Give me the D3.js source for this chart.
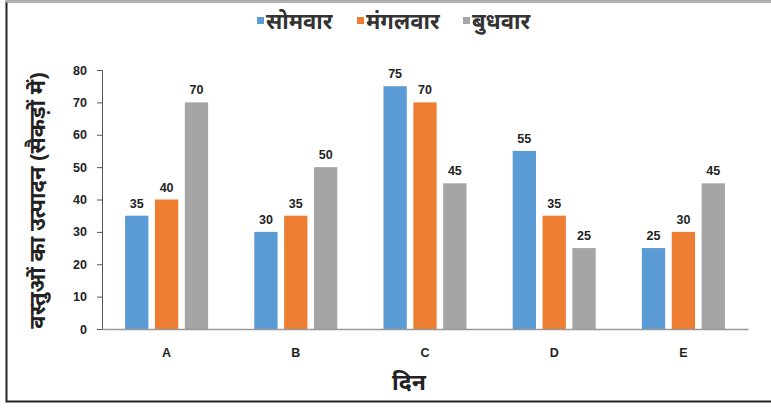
<!DOCTYPE html>
<html>
<head>
<meta charset="utf-8">
<script src="https://cdn.jsdelivr.net/npm/d3@7"></script>
<style>
  body { margin: 0; background: #fff; }
  svg { display: block; }
</style>
</head>
<body>
<svg id="chart" width="771" height="409"></svg>
<script>
// data
const days = ["A", "B", "C", "D", "E"];
const seriesNames = ["सोमवार", "मंगलवार", "बुधवार"];
const monday = [35, 30, 75, 55, 25];
const tuesday = [40, 35, 70, 35, 30];
const wednesday = [70, 50, 45, 25, 45];
const yTicks = [0, 10, 20, 30, 40, 50, 60, 70, 80];
const colors = ["#5B9BD5", "#ED7D31", "#A5A5A5"];

const series = [monday, tuesday, wednesday];

const svg = d3.select("#chart");
const margin = { top: 70, right: 23, bottom: 80, left: 102 };
const W = 771, H = 409;
const hindiFont = "Noto Sans, sans-serif";

// frame
svg.append("rect")
  .attr("x", 6.5).attr("y", 1.5)
  .attr("width", 780).attr("height", 400)
  .attr("fill", "#fff")
  .attr("stroke", "#222").attr("stroke-width", 2);
svg.append("line")
  .attr("x1", 6).attr("x2", 771).attr("y1", 1.5).attr("y2", 1.5)
  .attr("stroke", "#bbb").attr("stroke-width", 2);

const x0 = d3.scaleBand()
  .domain(days)
  .range([margin.left, W - margin.right]);

const x1 = d3.scaleBand()
  .domain(d3.range(series.length))
  .range([0, 86])
  .paddingInner(0.22)
  .paddingOuter(0.05);

const y = d3.scaleLinear()
  .domain([0, 80])
  .range([H - margin.bottom, margin.top]);

// y axis
const yAxis = svg.append("g")
  .attr("transform", `translate(${margin.left},0)`)
  .call(d3.axisLeft(y).tickValues(yTicks).tickSize(5).tickSizeOuter(5).tickPadding(10));
yAxis.select(".domain").attr("stroke", "#555");
yAxis.selectAll(".tick line").attr("stroke", "#555");
yAxis.selectAll("text")
  .attr("font-family", "Liberation Sans, Arial, sans-serif")
  .attr("font-size", 12.5).attr("font-weight", "bold").attr("fill", "#222");

// bars
const groups = svg.append("g")
  .selectAll("g")
  .data(days)
  .join("g")
  .attr("transform", d => `translate(${x0(d) + x0.bandwidth() / 2 - 43},0)`);

series.forEach((vals, si) => {
  groups.append("rect")
    .attr("x", x1(si))
    .attr("y", (d, i) => y(vals[i]))
    .attr("width", x1.bandwidth())
    .attr("height", (d, i) => y(0) - y(vals[i]))
    .attr("fill", colors[si]);
  groups.append("text")
    .attr("x", x1(si) + x1.bandwidth() / 2)
    .attr("y", (d, i) => y(vals[i]) - 8)
    .attr("text-anchor", "middle")
    .attr("font-family", "Liberation Sans, Arial, sans-serif")
    .attr("font-size", 12.5).attr("font-weight", "bold").attr("fill", "#222")
    .text((d, i) => vals[i]);
});

// x axis
const xAxis = svg.append("g")
  .attr("transform", `translate(0,${y(0)})`)
  .call(d3.axisBottom(x0).tickSize(0).tickSizeOuter(0).tickPadding(19));
xAxis.select(".domain").attr("stroke", "#999").attr("stroke-width", 1.5);
xAxis.selectAll("text")
  .attr("font-family", "Liberation Sans, Arial, sans-serif")
  .attr("font-size", 12.5).attr("font-weight", "bold").attr("fill", "#222");

// axis titles
svg.append("text")
  .attr("x", 409).attr("y", 390)
  .attr("text-anchor", "middle")
  .attr("font-family", hindiFont)
  .attr("font-size", 23).attr("font-weight", "bold").attr("fill", "#222")
  .text("दिन");

svg.append("text")
  .attr("transform", `translate(45,${(margin.top + y(0)) / 2 + 1}) rotate(-90)`)
  .attr("text-anchor", "middle")
  .attr("font-family", hindiFont)
  .attr("font-size", 22).attr("font-weight", "bold").attr("fill", "#222")
  .text("वस्तुओं का उत्पादन (सैकड़ों में)");

// legend
const legendX = [257, 357, 463];
const legend = svg.append("g");
seriesNames.forEach((name, i) => {
  legend.append("rect")
    .attr("x", legendX[i]).attr("y", 17)
    .attr("width", 7).attr("height", 7)
    .attr("fill", colors[i]);
  legend.append("text")
    .attr("x", legendX[i] + 9).attr("y", 29)
    .attr("font-family", hindiFont)
    .attr("font-size", 22).attr("font-weight", "bold").attr("fill", "#333")
    .text(name);
});
</script>
</body>
</html>
